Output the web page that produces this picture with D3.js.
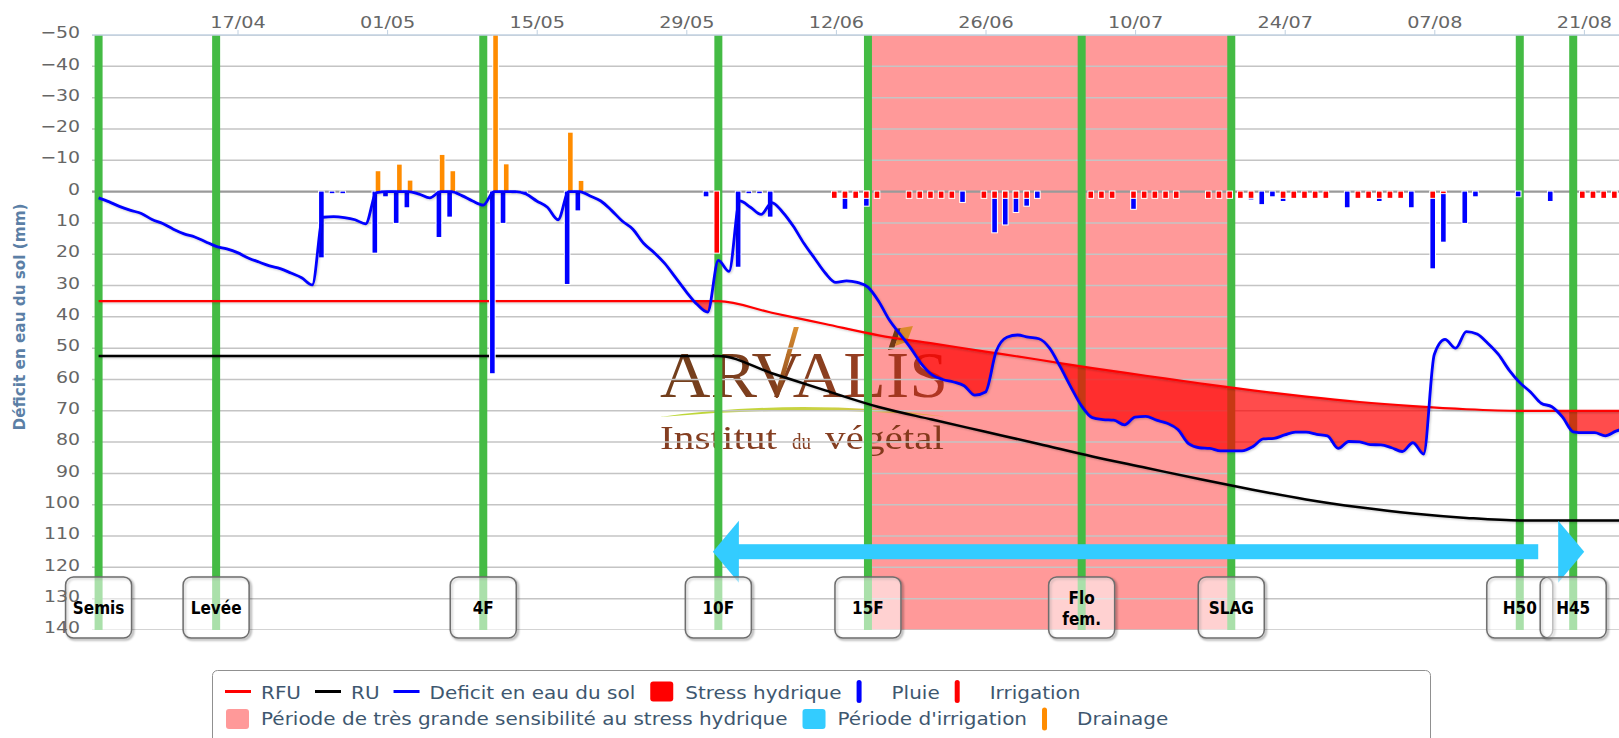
<!DOCTYPE html>
<html lang="fr">
<head>
<meta charset="utf-8">
<title>Bilan hydrique</title>
<script src="https://cdn.jsdelivr.net/npm/d3@7/dist/d3.min.js"></script>
<style>
  html, body { margin: 0; padding: 0; background: #ffffff; }
  svg { display: block; }
</style>
</head>
<body>
<svg id="chart" width="1619" height="738"></svg>
<script>
// ------------------------------------------------------------------ DATA
const YEAR = 2017;
const yTickValues = [-50,-40,-30,-20,-10,0,10,20,30,40,50,60,70,80,90,100,110,120,130,140];
const xTickLabels = ["17/04","01/05","15/05","29/05","12/06","26/06","10/07","24/07","07/08","21/08"];

const stageLabels = ["Semis","Levée","4F","10F","15F","Flo\nfem.","SLAG","H50","H45"];
const stageDates  = ["04/04","15/04","10/05","01/06","15/06","05/07","19/07","15/08","20/08"];

const sensitivePeriod = ["15/06","19/07"];      // Période de très grande sensibilité
const irrigationPeriod = ["01/06","20/08"];     // Période d'irrigation
const irrigationPeriodLevel = 115;

// Déficit en eau du sol (mm), one value per day from deficitStart
const deficitStart = "04/04";
const deficitValues = [
  2, 3.3, 4.8, 6, 7, 8.9, 10.2, 12, 13.5, 14.5, 16, 17.5, 18.3,
  19.5, 21.2, 22.5, 23.7, 24.6, 26, 27.5, 29.8, 8.2, 8,
  8.3, 9, 10.3, 0.3, 0, 0, 0, 0.8, 2, 0,
  0, 1.3, 3, 4.3, 0, 0, 0, 0.8, 3, 5,
  9, 0, 0, 1.4, 3, 6, 9.4, 12, 16.5, 19.5,
  23, 27.5, 32, 36, 38.5, 22, 25.5, 3, 5, 7.3,
  3.5, 6.5, 11, 16.5, 21.3, 26, 29, 28.5, 29, 30.5,
  35, 41, 45.5, 50, 55, 58.5, 60, 60.8, 62, 65,
  64, 51, 46.5, 45.8, 46.5, 47, 50, 56, 62.5, 68.5,
  72.2, 72.8, 73, 74.5, 72, 71.8, 73, 74, 76, 80.5,
  81.8, 82, 82.8, 82.8, 82.8, 81.5, 79, 78.8, 77.7, 76.8,
  76.8, 77.5, 78, 82, 79.8, 79.9, 80.8, 80.9, 81.8, 83,
  80.2, 83.8, 52, 47.2, 50, 44.7, 45.5, 48.4, 52, 57,
  61, 64, 67.6, 68.7, 72, 76.7, 77, 77, 78, 76.5, 75.5
];

// RU and RFU (mm)
const reserveDates = ["04/04","01/06","06/06","11/06","16/06","21/06","26/06","01/07","06/07","11/07","16/07","21/07","26/07","31/07","05/08","10/08","15/08","26/08"];
const ruValues  = [52.5, 52.5, 58, 63.5, 68.8, 72.8, 76.7, 80.6, 84.6, 88.2, 91.8, 95.2, 98.3, 100.8, 102.8, 104.2, 105, 105];
const rfuValues = [35, 35, 38.7, 42.3, 45.9, 48.5, 51.1, 53.7, 56.4, 58.8, 61.2, 63.5, 65.5, 67.2, 68.5, 69.5, 70, 70];

// Pluie (mm)
const rainDates  = ["25/04","26/04","27/04","30/04","01/05","02/05","03/05","06/05","07/05","11/05","12/05","13/05","14/05","18/05","19/05","31/05","03/06","04/06","05/06","06/06","13/06","15/06","24/06","27/06","28/06","29/06","30/06","01/07","10/07","21/07","22/07","23/07","24/07","30/07","02/08","05/08","07/08","08/08","10/08","11/08","15/08","18/08","24/08"];
const rainValues = [21, 0.5, 0.5, 19.5, 1.5, 10, 5, 14.5, 8, 58, 10, 0.5, 0.5, 29.5, 6, 1.5, 24, 0.5, 0.5, 8, 5.5, 4.5, 3.3, 13, 10.5, 6.5, 4.5, 2, 5.5, 2.5, 4, 1.5, 3, 5, 3, 5, 24.5, 16, 10, 1.5, 1.5, 3, 2];

// Irrigation (mm)
const irrigationDates  = ["01/06","12/06","13/06","14/06","15/06","16/06","19/06","20/06","21/06","22/06","23/06","26/06","27/06","28/06","29/06","30/06","06/07","07/07","08/07","10/07","11/07","12/07","13/07","14/07","17/07","18/07","19/07","20/07","21/07","24/07","25/07","26/07","27/07","28/07","31/07","01/08","02/08","03/08","04/08","07/08","08/08","21/08","22/08","23/08","24/08"];
const irrigationValues = [19.5, 2, 2, 2, 2, 2, 2, 2, 2, 2, 2, 2, 2, 2, 2, 2, 2, 2, 2, 2, 2, 2, 2, 2, 2, 2, 2, 2, 2, 2, 2, 2, 2, 2, 2, 2, 2, 2, 2, 2, 0.5, 2, 2, 2, 2];

// Drainage (mm, drawn upwards)
const drainageDates  = ["30/04","02/05","03/05","06/05","07/05","11/05","12/05","18/05","19/05"];
const drainageValues = [6.5, 8.6, 3.5, 11.7, 6.5, 60, 8.7, 18.8, 3.4];

// ------------------------------------------------------------------ SETUP
const parse = s => { const [d, m] = s.split("/").map(Number); return new Date(Date.UTC(YEAR, m - 1, d)); };
const DAY = 864e5;
const plot = { left: 92, right: 1619, top: 35, bottom: 630 };

const xs = d3.scaleUtc().domain([parse("17/04"), parse("24/07")]).range([237.5, 1284.7]);
const ys = d3.scaleLinear().domain([-50, 140]).range([plot.top, plot.bottom]);

const deficit = deficitValues.map((v, i) => ({ date: new Date(parse(deficitStart).getTime() + i * DAY), v }));
const ru  = reserveDates.map((d, i) => ({ date: parse(d), v: ruValues[i] }));
const rfu = reserveDates.map((d, i) => ({ date: parse(d), v: rfuValues[i] }));

const svg = d3.select("#chart");
const defs = svg.append("defs");

defs.append("clipPath").attr("id", "plotClip").append("rect")
  .attr("x", plot.left).attr("y", plot.top).attr("width", plot.right - plot.left).attr("height", plot.bottom - plot.top);

const sh = defs.append("filter").attr("id", "lineShadow").attr("x", "-5%").attr("y", "-5%").attr("width", "110%").attr("height", "110%");
sh.append("feDropShadow").attr("dx", 1).attr("dy", 1).attr("stdDeviation", 1).attr("flood-color", "#000").attr("flood-opacity", 0.22);
const bsh = defs.append("filter").attr("id", "boxShadow").attr("x", "-20%").attr("y", "-20%").attr("width", "140%").attr("height", "140%");
bsh.append("feGaussianBlur").attr("stdDeviation", 1.3);

const lineGen = d3.line().x(d => xs(d.date)).y(d => ys(d.v)).curve(d3.curveMonotoneX);

svg.append("rect").attr("width", 1619).attr("height", 738).attr("fill", "#fff");

const plotG = svg.append("g").attr("clip-path", "url(#plotClip)");

// sensitive period band
plotG.append("rect")
  .attr("x", xs(parse(sensitivePeriod[0]))).attr("y", plot.top)
  .attr("width", xs(parse(sensitivePeriod[1])) - xs(parse(sensitivePeriod[0])))
  .attr("height", plot.bottom - plot.top)
  .attr("fill", "#ff9999");

// ------------------------------------------------------------------ LOGO (watermark)
const logo = plotG.append("g").attr("opacity", 0.95);
const g1 = defs.append("linearGradient").attr("id", "arvGrad").attr("x1", 0).attr("x2", 1).attr("y1", 0).attr("y2", 0);
g1.append("stop").attr("offset", 0).attr("stop-color", "#6a3510");
g1.append("stop").attr("offset", 0.55).attr("stop-color", "#833514");
g1.append("stop").attr("offset", 1).attr("stop-color", "#b0301c");
const g2 = defs.append("linearGradient").attr("id", "swGrad").attr("x1", 0).attr("x2", 1).attr("y1", 0).attr("y2", 0);
g2.append("stop").attr("offset", 0).attr("stop-color", "#b7d52e");
g2.append("stop").attr("offset", 0.6).attr("stop-color", "#c9cf3a");
g2.append("stop").attr("offset", 1).attr("stop-color", "#e3a13a");
const g3 = defs.append("linearGradient").attr("id", "accGrad").attr("x1", 0).attr("x2", 0).attr("y1", 0).attr("y2", 1);
g3.append("stop").attr("offset", 0).attr("stop-color", "#d98a26");
g3.append("stop").attr("offset", 1).attr("stop-color", "#7b3410");

const arv = logo.append("text").attr("x", 660).attr("y", 397)
  .attr("font-family", "'Liberation Serif','DejaVu Serif',serif").attr("font-size", 66)
  .attr("fill", "url(#arvGrad)").attr("textLength", 288).attr("lengthAdjust", "spacingAndGlyphs")
  .text("ARVALIS");
try {
  const vb = arv.node().getExtentOfChar(2);
  logo.append("path")
    .attr("d", `M${vb.x + vb.width * 0.55},397 L${vb.x + vb.width * 0.66},397 L${vb.x + vb.width + 6},327 L${vb.x + vb.width + 1},327 Z`)
    .attr("fill", "url(#accGrad)");
  const ib = arv.node().getExtentOfChar(5);
  logo.append("path")
    .attr("d", `M${ib.x + 2},350 L${ib.x + 9},329 L${ib.x + 15},328 L${ib.x + 8},349 Z`).attr("fill", "#6a3510");
  logo.append("path")
    .attr("d", `M${ib.x + 15},328 L${ib.x + 27},326 L${ib.x + 21},342 L${ib.x + 9},346 Z`).attr("fill", "#d98a26");
} catch (e) {}
logo.append("path").attr("d", "M660,417 Q800,397.5 945,416.5 Q800,404.5 660,417 Z").attr("fill", "url(#swGrad)");
const instFont = "'Liberation Serif','DejaVu Serif',serif";
[["Institut", 660, 117, 34], ["du", 792, 19, 23], ["végétal", 825, 119, 34]].forEach(([t, x, w, fs]) => {
  logo.append("text").attr("x", x).attr("y", 449).attr("font-family", instFont).attr("font-size", fs)
    .attr("fill", "#7e3416").attr("textLength", w).attr("lengthAdjust", "spacingAndGlyphs").text(t);
});

// ------------------------------------------------------------------ GRID
const gridG = plotG.append("g");
yTickValues.forEach(v => {
  gridG.append("line").attr("x1", plot.left).attr("x2", plot.right)
    .attr("y1", ys(v)).attr("y2", ys(v))
    .attr("stroke", v === 0 ? "#9a9a9a" : "#c4c4c4").attr("stroke-width", v === 0 ? 2.2 : 1.5);
});

// ------------------------------------------------------------------ STAGE LINES
const stageG = plotG.append("g");
stageDates.forEach(d => {
  stageG.append("rect").attr("x", xs(parse(d)) - 4).attr("y", plot.top).attr("width", 8)
    .attr("height", plot.bottom - plot.top).attr("fill", "#44bb44");
});

// ------------------------------------------------------------------ STRESS AREA
defs.append("clipPath").attr("id", "belowRFU").append("path")
  .attr("d", d3.area().x(d => xs(d.date)).y0(d => ys(d.v)).y1(plot.bottom + 20).curve(d3.curveMonotoneX)(rfu));
plotG.append("g").attr("clip-path", "url(#belowRFU)").append("path")
  .attr("d", d3.area().x(d => xs(d.date)).y0(plot.top - 20).y1(d => ys(d.v)).curve(d3.curveMonotoneX)(deficit))
  .attr("fill", "#ff0000").attr("fill-opacity", 0.7);

// ------------------------------------------------------------------ RU / RFU
plotG.append("path").attr("d", lineGen(ru)).attr("fill", "none").attr("stroke", "#000").attr("stroke-width", 2.5).attr("filter", "url(#lineShadow)");
plotG.append("path").attr("d", lineGen(rfu)).attr("fill", "none").attr("stroke", "#ff0000").attr("stroke-width", 2.2).attr("filter", "url(#lineShadow)");

// ------------------------------------------------------------------ COLUMNS
const barsG = plotG.append("g");
function drawBars(dates, values, color, dx, sign) {
  const g = barsG.append("g");
  dates.forEach((ds, i) => {
    const cx = xs(parse(ds)) + dx;
    const y0 = ys(0), y1 = ys(sign * values[i]);
    const top = Math.min(y0, y1), h = Math.abs(y1 - y0);
    g.append("rect").attr("x", cx - 3.3).attr("y", top - 1).attr("width", 6.6).attr("height", h + 2).attr("fill", "#fff");
    g.append("rect").attr("x", cx - 2.3).attr("y", top).attr("width", 4.6).attr("height", h).attr("fill", color);
  });
}
drawBars(rainDates, rainValues, "#0000ff", -1.6, 1);
drawBars(irrigationDates, irrigationValues, "#ff0000", -1.6, 1);
drawBars(drainageDates, drainageValues, "#ff8c00", 1.6, -1);

// ------------------------------------------------------------------ DEFICIT LINE
plotG.append("path").attr("d", lineGen(deficit)).attr("fill", "none").attr("stroke", "#0000ff")
  .attr("stroke-width", 2.8).attr("stroke-linejoin", "round").attr("filter", "url(#lineShadow)");

// ------------------------------------------------------------------ IRRIGATION PERIOD ARROW
{
  const xa = xs(parse(irrigationPeriod[0])), xb = xs(parse(irrigationPeriod[1]));
  const yc = ys(irrigationPeriodLevel);
  const arr = plotG.append("g").attr("fill", "#33ccff");
  arr.append("rect").attr("x", xa + 19).attr("y", yc - 7.5).attr("width", (xb - 35) - (xa + 19)).attr("height", 15);
  arr.append("path").attr("d", `M${xa - 5.5},${yc} L${xa + 20.5},${yc - 31} L${xa + 20.5},${yc + 31} Z`);
  arr.append("path").attr("d", `M${xb + 11},${yc} L${xb - 15},${yc - 31} L${xb - 15},${yc + 31} Z`);
}

// ------------------------------------------------------------------ STAGE LABEL BOXES
const boxG = svg.append("g");
stageDates.forEach((d, i) => {
  const cx = xs(parse(d));
  const g = boxG.append("g");
  g.append("rect").attr("x", cx - 33 + 1.5).attr("y", 577 + 1.5).attr("width", 66).attr("height", 61).attr("rx", 8)
    .attr("fill", "none").attr("stroke", "#000").attr("stroke-opacity", 0.35).attr("stroke-width", 2.2)
    .attr("filter", "url(#boxShadow)");
  g.append("rect").attr("x", cx - 33).attr("y", 577).attr("width", 66).attr("height", 61).attr("rx", 8)
    .attr("fill", "#ffffff").attr("fill-opacity", 0.55).attr("stroke", "#6e6e6e").attr("stroke-width", 1.5);
  const lines = stageLabels[i].split("\n");
  const base = lines.length === 1 ? [614] : [603.5, 625];
  lines.forEach((t, j) => {
    const tx = g.append("text").attr("x", cx).attr("y", base[j]).attr("text-anchor", "middle")
      .attr("font-family", "'DejaVu Sans',sans-serif").attr("font-weight", "bold").attr("font-size", 17)
      .attr("fill", "#000").text(t);
    const L = tx.node().getComputedTextLength();
    tx.attr("textLength", L * 0.9).attr("lengthAdjust", "spacingAndGlyphs");
  });
});

// ------------------------------------------------------------------ AXES
function stretch(sel, k) {
  sel.each(function () {
    const L = this.getComputedTextLength();
    this.setAttribute("textLength", L * k);
    this.setAttribute("lengthAdjust", "spacingAndGlyphs");
  });
}
const xAxis = d3.axisTop(xs).tickValues(xTickLabels.map(parse)).tickFormat(d3.utcFormat("%d/%m")).tickSize(5).tickPadding(2);
const xg = svg.append("g").attr("transform", `translate(0,${plot.top})`).call(xAxis);
xg.select(".domain").remove();
xg.selectAll(".tick line").attr("stroke", "#c0d0e0").attr("stroke-width", 1);
xg.selectAll(".tick text").attr("fill", "#666").attr("font-family", "'DejaVu Sans',sans-serif").attr("font-size", 16);
stretch(xg.selectAll(".tick text"), 1.2);
svg.append("line").attr("x1", plot.left).attr("x2", plot.right).attr("y1", plot.top).attr("y2", plot.top)
  .attr("stroke", "#c0d0e0").attr("stroke-width", 1.5);

const yAxis = d3.axisLeft(ys).tickValues(yTickValues).tickSize(0).tickPadding(3);
const yg = svg.append("g").attr("transform", "translate(83,0)").call(yAxis);
yg.select(".domain").remove();
yg.selectAll(".tick text").attr("fill", "#666").attr("font-family", "'DejaVu Sans',sans-serif").attr("font-size", 16).attr("y", -2.4);
stretch(yg.selectAll(".tick text"), 1.18);

svg.append("text").attr("transform", "translate(25,317) rotate(-90)").attr("text-anchor", "middle")
  .attr("font-family", "'DejaVu Sans',sans-serif").attr("font-weight", "bold").attr("font-size", 15)
  .attr("fill", "#5b7fa6").attr("textLength", 227).attr("lengthAdjust", "spacingAndGlyphs")
  .text("Déficit en eau du sol (mm)");

// ------------------------------------------------------------------ LEGEND
const legendRows = [
  [ { kind: "line", color: "#ff0000", label: "RFU" },
    { kind: "line", color: "#000000", label: "RU" },
    { kind: "line", color: "#0000ff", label: "Deficit en eau du sol" },
    { kind: "square", color: "#ff0000", label: "Stress hydrique" },
    { kind: "bar", color: "#0000ff", label: "Pluie" },
    { kind: "bar", color: "#ff0000", label: "Irrigation" } ],
  [ { kind: "square", color: "#ff9999", label: "Période de très grande sensibilité au stress hydrique" },
    { kind: "square", color: "#33ccff", label: "Période d'irrigation" },
    { kind: "bar", color: "#ff8c00", label: "Drainage" } ]
];
const lg = svg.append("g");
lg.append("rect").attr("x", 212.5).attr("y", 670.5).attr("width", 1218).attr("height", 90).attr("rx", 5)
  .attr("fill", "#fff").attr("stroke", "#909090").attr("stroke-width", 1);
const rowCenter = [691.5, 719], rowBase = [699, 724.5];
legendRows.forEach((row, r) => {
  let x = 225;
  row.forEach(it => {
    const cy = rowCenter[r];
    if (it.kind === "line") {
      lg.append("line").attr("x1", x).attr("x2", x + 26).attr("y1", cy).attr("y2", cy).attr("stroke", it.color).attr("stroke-width", 3);
    } else if (it.kind === "square") {
      lg.append("rect").attr("x", x + 1).attr("y", cy - 10).attr("width", 23).attr("height", 20).attr("rx", 3).attr("fill", it.color);
    } else {
      lg.append("rect").attr("x", x + 1).attr("y", cy - 11.5).attr("width", 5).attr("height", 23).attr("rx", 2.5).attr("fill", it.color);
    }
    const t = lg.append("text").attr("x", x + 36).attr("y", rowBase[r])
      .attr("font-family", "'DejaVu Sans',sans-serif").attr("font-size", 18).attr("fill", "#3e576f").text(it.label);
    const L = t.node().getComputedTextLength() * 1.11;
    t.attr("textLength", L).attr("lengthAdjust", "spacingAndGlyphs");
    x = x + 36 + L + 14;
  });
});
</script>
</body>
</html>
